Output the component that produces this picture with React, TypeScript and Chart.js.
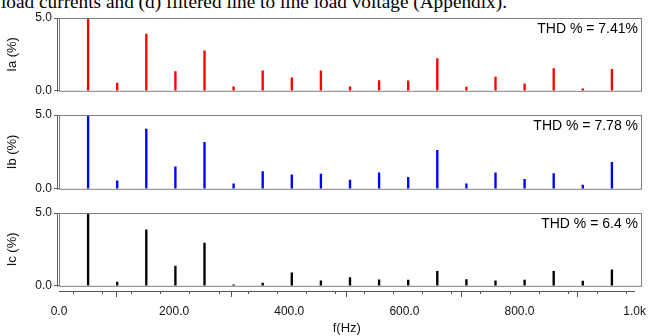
import React, { useEffect, useRef } from "react";
import { Chart, registerables } from "chart.js";

Chart.register(...registerables);

// ---------- data ----------
const FREQS = [50, 100, 150, 200, 250, 300, 350, 400, 450, 500, 550, 600, 650, 700, 750, 800, 850, 900, 950];
const IA = [5.0, 0.53, 3.9, 1.32, 2.74, 0.27, 1.37, 0.89, 1.37, 0.27, 0.71, 0.68, 2.21, 0.25, 0.94, 0.48, 1.53, 0.14, 1.48];
const IB = [5.0, 0.54, 4.05, 1.49, 3.15, 0.34, 1.17, 0.95, 0.99, 0.59, 1.08, 0.77, 2.61, 0.34, 1.08, 0.65, 1.03, 0.25, 1.8];
const IC = [5.0, 0.25, 3.84, 1.36, 2.93, 0.07, 0.18, 0.89, 0.34, 0.57, 0.41, 0.39, 1.0, 0.43, 0.34, 0.39, 1.0, 0.32, 1.09];

const X_TICKS = [0, 200, 400, 600, 800, 1000];
const X_TICK_LABELS = ["0.0", "200.0", "400.0", "600.0", "800.0", "1.0k"];
const X_MINOR_STEP = 50;
const Y_TICKS = [0, 5];
const Y_TICK_LABELS = ["0.0", "5.0"];

const Y_TITLES = ["Ia (%)", "Ib (%)", "Ic (%)"];
const THD_LABELS = ["THD % = 7.41%", "THD % = 7.78 %", "THD % = 6.4 %"];
const X_TITLE = "f(Hz)";
const CAPTION = "load currents and (d) filtered line to line load voltage (Appendix).";

const SANS = '"Liberation Sans", Arial, sans-serif';
const FRAME = "#808080";

const framePlugin = {
  id: "frame",
  afterDatasetsDraw(chart: any) {
    const { ctx, chartArea: a } = chart;
    ctx.save();
    ctx.strokeStyle = FRAME;
    ctx.lineWidth = 1;
    ctx.strokeRect(a.left + 0.5, a.top + 0.5, a.right - a.left, a.bottom - a.top);
    ctx.beginPath();
    ctx.moveTo(a.left - 1.5, a.top);
    ctx.lineTo(a.left - 1.5, a.bottom + 1);
    ctx.strokeStyle = "#606060";
    ctx.stroke();
    const thd = chart.options.plugins.thd && chart.options.plugins.thd.text;
    if (thd) {
      ctx.fillStyle = "#000";
      ctx.font = "14px " + SANS;
      ctx.textAlign = "right";
      ctx.textBaseline = "alphabetic";
      ctx.fillText(thd, a.right - 3, a.top + 15);
    }
    ctx.restore();
  },
};

type PanelProps = {
  values: number[];
  color: string;
  yTitle: string;
  thd: string;
  top: number;
  height: number;
  padTop: number;
  padBottom: number;
};

function Panel({ values, color, yTitle, thd, top, height, padTop, padBottom }: PanelProps) {
  const ref = useRef<HTMLCanvasElement | null>(null);
  useEffect(() => {
    if (!ref.current) return;
    const chart = new Chart(ref.current, {
      type: "bar",
      data: {
        datasets: [
          {
            data: FREQS.map((f, i) => ({ x: f, y: values[i] })),
            backgroundColor: color,
            borderWidth: 0,
            barThickness: 1.7,
          } as any,
        ],
      },
      options: {
        animation: false,
        responsive: false,
        maintainAspectRatio: false,
        events: [],
        layout: { padding: { left: 0, right: 12, top: padTop, bottom: padBottom } },
        plugins: {
          legend: { display: false },
          tooltip: { enabled: false },
          thd: { text: thd },
        } as any,
        scales: {
          x: { type: "linear", min: 0, max: 1000, offset: false, display: false },
          y: {
            min: 0,
            max: 5,
            afterFit: (s: any) => {
              s.width = 59;
            },
            afterBuildTicks: (s: any) => {
              s.ticks = Y_TICKS.map((v) => ({ value: v }));
            },
            ticks: {
              callback: (v: any) => {
                const i = Y_TICKS.indexOf(Number(v));
                return i >= 0 ? Y_TICK_LABELS[i] : "";
              },
              font: { family: SANS, size: 12 },
              color: "#111",
              padding: 2,
            },
            grid: { drawOnChartArea: false, tickLength: 5, tickColor: "#606060" },
            border: { display: false },
            title: {
              display: true,
              text: yTitle,
              color: "#111",
              font: { family: SANS, size: 13 },
              padding: { top: 5, bottom: 0 },
            },
          },
        },
      } as any,
      plugins: [framePlugin],
    });
    return () => chart.destroy();
  }, []);
  return (
    <canvas
      ref={ref}
      width={653}
      height={height}
      style={{ position: "absolute", left: 0, top, width: 653, height }}
    />
  );
}

// major axis: labels, long ticks, axis line, title
function XAxis({ top, height }: { top: number; height: number }) {
  const ref = useRef<HTMLCanvasElement | null>(null);
  useEffect(() => {
    if (!ref.current) return;
    const chart = new Chart(ref.current, {
      type: "bar",
      data: { datasets: [] },
      options: {
        animation: false,
        responsive: false,
        maintainAspectRatio: false,
        events: [],
        layout: { padding: { left: 59, right: 12, top: 0, bottom: 0 } },
        plugins: { legend: { display: false }, tooltip: { enabled: false } },
        scales: {
          x: {
            type: "linear",
            min: 0,
            max: 1000,
            offset: false,
            position: "bottom",
            afterFit: (s: any) => {
              s.height = 45;
            },
            afterBuildTicks: (s: any) => {
              s.ticks = X_TICKS.map((v) => ({ value: v }));
            },
            ticks: {
              autoSkip: false,
              maxRotation: 0,
              minRotation: 0,
              padding: 7,
              color: "#111",
              font: { family: SANS, size: 12 },
              callback: (v: any) => {
                const i = X_TICKS.indexOf(Number(v));
                return i >= 0 ? X_TICK_LABELS[i] : "";
              },
            },
            grid: { drawOnChartArea: false, tickLength: 6, tickColor: "#555" },
            border: { display: true, color: "#555" },
            title: {
              display: true,
              text: X_TITLE,
              color: "#111",
              font: { family: SANS, size: 13 },
              padding: { top: 0, bottom: 0 },
            },
          },
          y: { display: false, min: 0, max: 1 },
        },
      } as any,
    });
    return () => chart.destroy();
  }, []);
  return (
    <canvas
      ref={ref}
      width={653}
      height={height}
      style={{ position: "absolute", left: 0, top, width: 653, height }}
    />
  );
}

// minor axis: short ticks every 50 Hz
function XMinorAxis({ top, height }: { top: number; height: number }) {
  const ref = useRef<HTMLCanvasElement | null>(null);
  useEffect(() => {
    if (!ref.current) return;
    const chart = new Chart(ref.current, {
      type: "bar",
      data: { datasets: [] },
      options: {
        animation: false,
        responsive: false,
        maintainAspectRatio: false,
        events: [],
        layout: { padding: { left: 59, right: 12, top: 0, bottom: 0 } },
        plugins: { legend: { display: false }, tooltip: { enabled: false } },
        scales: {
          x: {
            type: "linear",
            min: 0,
            max: 1000,
            offset: false,
            position: "bottom",
            afterFit: (s: any) => {
              s.height = 5;
            },
            ticks: { display: false, stepSize: X_MINOR_STEP, autoSkip: false },
            grid: { drawOnChartArea: false, tickLength: 3, tickColor: "#555" },
            border: { display: false },
          },
          y: { display: false, min: 0, max: 1 },
        },
      } as any,
    });
    return () => chart.destroy();
  }, []);
  return (
    <canvas
      ref={ref}
      width={653}
      height={height}
      style={{ position: "absolute", left: 0, top, width: 653, height }}
    />
  );
}

export default function App() {
  return (
    <div
      style={{
        position: "fixed",
        left: 0,
        top: 0,
        width: 653,
        height: 336,
        overflow: "hidden",
        background: "#fff",
      }}
    >
      <div
        style={{
          position: "absolute",
          left: 1,
          top: -8,
          font: '19.3px "Liberation Serif", "Times New Roman", serif',
          lineHeight: "19px",
          whiteSpace: "nowrap",
          color: "#000",
        }}
      >
        {CAPTION}
      </div>
      <Panel values={IA} color="#ff0000" yTitle={Y_TITLES[0]} thd={THD_LABELS[0]} top={0} height={100} padTop={18} padBottom={9} />
      <Panel values={IB} color="#0000ff" yTitle={Y_TITLES[1]} thd={THD_LABELS[1]} top={100} height={98} padTop={15} padBottom={9} />
      <Panel values={IC} color="#000000" yTitle={Y_TITLES[2]} thd={THD_LABELS[2]} top={197} height={98} padTop={16} padBottom={9} />
      <XMinorAxis top={286} height={10} />
      <XAxis top={286} height={50} />
    </div>
  );
}
